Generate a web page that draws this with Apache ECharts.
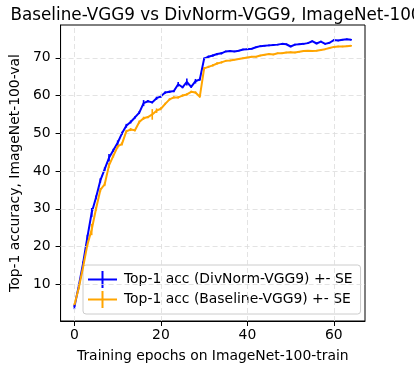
<!DOCTYPE html>
<html>
<head>
<meta charset="utf-8">
<script src="https://cdn.jsdelivr.net/npm/echarts@6/dist/echarts.min.js"></script>
<style>html,body{margin:0;padding:0;background:#fff}#c{width:414px;height:368px}</style>
</head>
<body>
<div id="c"></div>
<script>
const epochs = Array.from({length: 65}, (_, i) => i);
const divNorm = [4.0,9.5,15.5,22.5,29.0,33.0,37.5,40.5,43.5,45.5,47.5,50.0,52.0,53.0,54.2,55.5,58.0,58.5,58.2,59.3,59.8,60.8,61.0,61.2,63.0,62.2,63.6,62.3,63.8,64.3,69.8,70.3,70.6,71.0,71.2,71.7,71.8,71.7,71.9,72.2,72.3,72.4,72.8,73.1,73.2,73.3,73.4,73.5,73.7,73.6,73.0,73.5,73.6,73.7,73.9,74.4,73.8,74.3,73.7,74.0,74.7,74.6,74.8,74.9,74.8];
const baseline = [4.5,9.0,14.5,20.5,24.5,30.0,35.0,36.5,41.5,44.0,46.5,47.2,50.5,51.0,50.8,53.0,54.0,54.3,55.0,56.0,56.5,57.8,59.0,59.5,59.5,60.0,60.3,61.0,60.8,59.7,67.2,67.6,68.0,68.5,68.8,69.2,69.3,69.5,69.7,69.9,70.1,70.3,70.3,70.6,70.8,71.0,70.9,71.2,71.2,71.4,71.5,71.4,71.6,71.8,71.9,71.8,71.9,72.1,72.3,72.6,72.9,73.0,73.0,73.1,73.2];
const seDivNorm = [0.6,0.4,0.5,0.6,1.2,0.5,0.6,0.5,1.0,0.4,0.6,0.4,0.5,0.4,0.3,0.4,0.8,0.3,0.3,0.4,0.4,0.3,0.3,0.3,0.6,0.3,0.9,0.3,0.6,0.4,0.3,0.3,0.3,0.3,0.3,0.2,0.2,0.2,0.2,0.2,0.2,0.2,0.2,0.2,0.2,0.2,0.2,0.2,0.2,0.2,0.2,0.2,0.2,0.2,0.2,0.2,0.2,0.2,0.2,0.2,0.2,0.2,0.2,0.2,0.2];
const seBaseline = [0.4,0.4,0.5,0.6,1.5,0.5,0.5,0.5,0.6,0.4,0.5,0.4,0.4,0.4,0.3,0.4,0.4,0.3,1.4,0.6,0.4,0.3,0.3,0.3,0.3,0.3,0.3,0.3,0.3,0.3,0.4,0.3,0.3,0.3,0.3,0.2,0.2,0.2,0.2,0.2,0.2,0.2,0.2,0.2,0.2,0.2,0.2,0.2,0.2,0.2,0.2,0.2,0.2,0.2,0.2,0.2,0.2,0.2,0.2,0.2,0.2,0.2,0.2,0.2,0.2];
const xTicks = [0, 20, 40, 60];
const yTicks = [10, 20, 30, 40, 50, 60, 70];
const labelDiv = 'Top-1 acc (DivNorm-VGG9) +- SE';
const labelBase = 'Top-1 acc (Baseline-VGG9) +- SE';
const titleText = 'Baseline-VGG9 vs DivNorm-VGG9, ImageNet-100';
const xName = 'Training epochs on ImageNet-100-train';
const yName = 'Top-1 accuracy, ImageNet-100-val';

const FONT = 'DejaVu Sans';
const BLUE = '#0000ff', ORANGE = '#ffa500';
const GRID_STYLE = {color: '#dcdcdc', type: [5, 3], width: 0.8};

function lineData(vals){ return epochs.map((e,i)=>[e, vals[i]]); }
function errData(vals, se){ return epochs.map((e,i)=>[e, vals[i]-se[i], vals[i]+se[i]]); }
function errSeries(name, vals, se, color){
  return {
    type: 'custom', name: name, silent: true, z: 3,
    data: errData(vals, se),
    renderItem: function(params, api){
      const a = api.coord([api.value(0), api.value(1)]);
      const b = api.coord([api.value(0), api.value(2)]);
      return {type:'line', shape:{x1:a[0],y1:a[1],x2:b[0],y2:b[1]}, style:{stroke:color, lineWidth:1.6}};
    }
  };
}
const legendIcon = 'path://M0,7.5h29v2h-29z M13.5,0h2v17h-2z';
const gridMarks = xTicks.map(v => ({xAxis: v})).concat(yTicks.map(v => ({yAxis: v})));
const chart = echarts.init(document.getElementById('c'), null, {renderer:'canvas'});
chart.setOption({
  animation: false,
  backgroundColor: '#fff',
  textStyle: {fontFamily: FONT},
  title: {text: titleText, left: 211, textAlign: 'center', top: 2,
    textStyle: {fontFamily: FONT, fontSize: 16.8, fontWeight: 'normal', color: '#000'}},
  grid: {left: 58, top: 25, right: 49, bottom: 44, show: true, borderColor: '#000', borderWidth: 1, backgroundColor: 'transparent'},
  legend: {
    left: 83, top: 265, orient: 'vertical', itemWidth: 29, itemHeight: 17, itemGap: 3,
    padding: [6, 8, 6, 5], borderColor: '#cccccc', borderWidth: 1, borderRadius: 3,
    backgroundColor: 'rgba(255,255,255,0.8)',
    textStyle: {fontFamily: FONT, fontSize: 13.9, color: '#000', padding: [0,0,0,2]},
    data: [
      {name: labelDiv, icon: legendIcon, itemStyle: {color: BLUE}},
      {name: labelBase, icon: legendIcon, itemStyle: {color: ORANGE}}
    ]
  },
  xAxis: {
    type: 'value', min: -3.2, max: 67.2,
    name: xName, nameLocation: 'middle', nameGap: 28,
    nameTextStyle: {fontFamily: FONT, fontSize: 13.9, color: '#000'},
    axisLine: {show: true, onZero: false, lineStyle: {color: '#000', width: 1}},
    axisTick: {show: true, length: 5, lineStyle: {color: '#000'}, customValues: xTicks},
    axisLabel: {fontFamily: FONT, fontSize: 13.9, color: '#000', margin: 7, customValues: xTicks},
    splitLine: {show: false}
  },
  yAxis: {
    type: 'value', min: 0.26, max: 78.7,
    name: yName, nameLocation: 'middle', nameGap: 29, nameRotate: 90,
    nameTextStyle: {fontFamily: FONT, fontSize: 13.9, color: '#000'},
    axisLine: {show: true, onZero: false, lineStyle: {color: '#000', width: 1}},
    axisTick: {show: true, length: 5, lineStyle: {color: '#000'}, customValues: yTicks},
    axisLabel: {fontFamily: FONT, fontSize: 13.9, color: '#000', margin: 10, customValues: yTicks},
    splitLine: {show: false}
  },
  series: [
    {name: 'grid', type: 'line', data: [[0, divNorm[0]]], showSymbol: false, symbol: 'none', z: 1, silent: true,
      lineStyle: {opacity: 0}, legendHoverLink: false,
      markLine: {silent: true, symbol: 'none', label: {show: false}, animation: false,
        lineStyle: GRID_STYLE, emphasis: {disabled: true}, data: gridMarks}},
    {name: labelDiv, type: 'line', data: lineData(divNorm), showSymbol: false, symbol: 'none', z: 4,
      lineStyle: {color: BLUE, width: 2}, itemStyle: {color: BLUE}},
    errSeries(labelDiv, divNorm, seDivNorm, BLUE),
    {name: labelBase, type: 'line', data: lineData(baseline), showSymbol: false, symbol: 'none', z: 5,
      lineStyle: {color: ORANGE, width: 2}, itemStyle: {color: ORANGE}},
    errSeries(labelBase, baseline, seBaseline, ORANGE)
  ]
});
</script>
</body>
</html>
